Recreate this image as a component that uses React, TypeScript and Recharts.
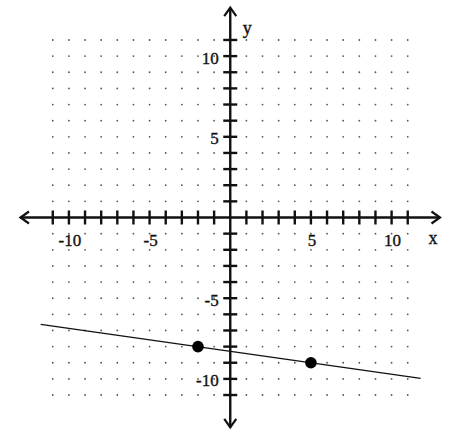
import { ComposedChart, XAxis, YAxis, Scatter, ReferenceLine, ReferenceDot } from 'recharts';

const gridValues = [-11, -10, -9, -8, -7, -6, -5, -4, -3, -2, -1, 1, 2, 3, 4, 5, 6, 7, 8, 9, 10, 11];
const tickValues = [-11, -10, -9, -8, -7, -6, -5, -4, -3, -2, -1, 1, 2, 3, 4, 5, 6, 7, 8, 9, 10, 11];
const xLabels = [-10, -5, 5, 10];
const yLabels = [10, 5, -5, -10];
const axisLimit = 13;
const linePoints = [
  { x: -11.75, y: -6.62 },
  { x: 11.8, y: -9.97 },
];
const plottedPoints = [
  { x: -2, y: -8 },
  { x: 5, y: -9 },
];
const arrowEnds = [
  { x: axisLimit, y: 0, dir: 'right' },
  { x: -axisLimit, y: 0, dir: 'left' },
  { x: 0, y: axisLimit, dir: 'up' },
  { x: 0, y: -axisLimit, dir: 'down' },
];

const gridDots = gridValues.flatMap((gx) => gridValues.map((gy) => ({ x: gx, y: gy })));

const font = '"Liberation Serif", "Times New Roman", serif';
const ink = '#111';

function Arrow({ cx, cy, dir }: any) {
  const L = 8.5;
  const W = 6;
  let d = '';
  if (dir === 'right') d = `M${cx - L},${cy - W} L${cx},${cy} L${cx - L},${cy + W}`;
  if (dir === 'left') d = `M${cx + L},${cy - W} L${cx},${cy} L${cx + L},${cy + W}`;
  if (dir === 'up') d = `M${cx - W},${cy + L} L${cx},${cy} L${cx + W},${cy + L}`;
  if (dir === 'down') d = `M${cx - W},${cy - L} L${cx},${cy} L${cx + W},${cy - L}`;
  return <path d={d} fill="none" stroke={ink} strokeWidth={2.2} strokeLinejoin="miter" />;
}

// text a little heavier, like the blurry scan
const labelStyle = { fontFamily: font, fill: ink, stroke: ink, strokeWidth: 0.35 };

export default function App() {
  return (
    <div style={{ position: 'absolute', left: 0, top: 0, width: 455, height: 438, background: '#fff' }}>
      <ComposedChart
        width={455}
        height={438}
        margin={{ top: 7.7, right: 15, bottom: 10.7, left: 20.5 }}
      >
        <XAxis type="number" dataKey="x" domain={[-axisLimit, axisLimit]} hide allowDataOverflow />
        <YAxis type="number" dataKey="y" domain={[-axisLimit, axisLimit]} hide allowDataOverflow />

        {/* dotted grid */}
        <Scatter
          data={gridDots}
          isAnimationActive={false}
          shape={(p: any) => <circle cx={p.cx} cy={p.cy} r={0.9} fill="#555" />}
        />

        {/* axes */}
        <ReferenceLine
          segment={[{ x: -axisLimit, y: 0 }, { x: axisLimit, y: 0 }]}
          stroke={ink}
          strokeWidth={2.4}
        />
        <ReferenceLine
          segment={[{ x: 0, y: -axisLimit }, { x: 0, y: axisLimit }]}
          stroke={ink}
          strokeWidth={2.4}
        />
        {arrowEnds.map((a) => (
          <ReferenceDot
            key={`arrow-${a.dir}`}
            x={a.x}
            y={a.y}
            ifOverflow="visible"
            shape={(p: any) => <Arrow cx={p.cx} cy={p.cy} dir={a.dir} />}
          />
        ))}

        {/* tick marks */}
        {tickValues.map((t) => (
          <ReferenceDot
            key={`xt-${t}`}
            x={t}
            y={0}
            shape={(p: any) => <line x1={p.cx} x2={p.cx} y1={p.cy - 7} y2={p.cy + 7} stroke={ink} strokeWidth={2.4} />}
          />
        ))}
        {tickValues.map((t) => (
          <ReferenceDot
            key={`yt-${t}`}
            x={0}
            y={t}
            shape={(p: any) => <line x1={p.cx - 7} x2={p.cx + 7} y1={p.cy} y2={p.cy} stroke={ink} strokeWidth={2.4} />}
          />
        ))}

        {/* tick labels */}
        {xLabels.map((t) => (
          <ReferenceDot
            key={`xl-${t}`}
            x={t}
            y={0}
            shape={(p: any) => (
              <text x={p.cx + 1} y={p.cy + 28} textAnchor="middle" fontSize={17} {...labelStyle}>
                {t}
              </text>
            )}
          />
        ))}
        {yLabels.map((t) => (
          <ReferenceDot
            key={`yl-${t}`}
            x={0}
            y={t}
            shape={(p: any) => (
              <text x={p.cx - 11.5} y={p.cy + 2} textAnchor="end" dominantBaseline="central" fontSize={17} {...labelStyle}>
                {t}
              </text>
            )}
          />
        ))}

        {/* axis names */}
        <ReferenceDot
          x={axisLimit}
          y={0}
          ifOverflow="visible"
          shape={(p: any) => (
            <text x={p.cx - 7} y={p.cy + 26} textAnchor="middle" fontSize={18} {...labelStyle}>
              x
            </text>
          )}
        />
        <ReferenceDot
          x={0}
          y={axisLimit}
          ifOverflow="visible"
          shape={(p: any) => (
            <text x={p.cx + 17} y={p.cy + 26} textAnchor="middle" fontSize={18} {...labelStyle}>
              y
            </text>
          )}
        />

        {/* the line */}
        <Scatter
          data={linePoints}
          isAnimationActive={false}
          line={{ stroke: ink, strokeWidth: 1.4 }}
          shape={() => <g />}
        />

        {/* plotted points */}
        <Scatter
          data={plottedPoints}
          isAnimationActive={false}
          shape={(p: any) => <circle cx={p.cx} cy={p.cy} r={5.8} fill="#000" />}
        />
      </ComposedChart>
    </div>
  );
}
